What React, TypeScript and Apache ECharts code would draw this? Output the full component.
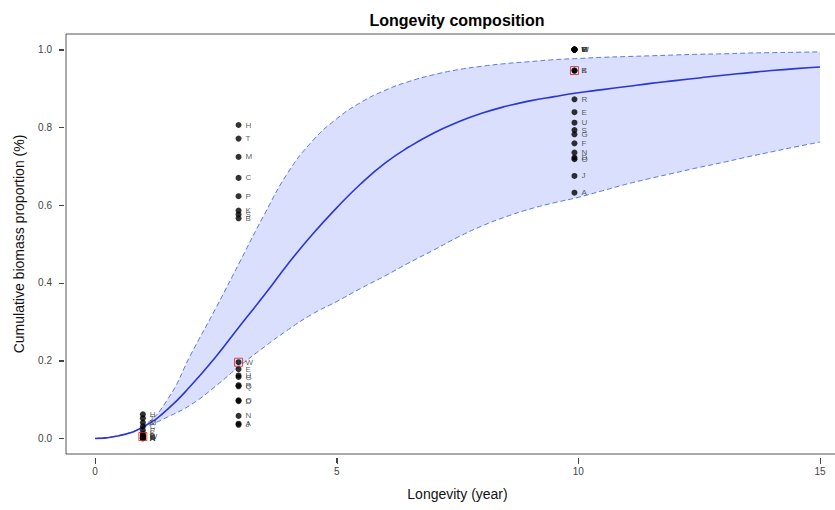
import React, { useEffect, useRef } from "react";
import * as echarts from "echarts";

// Fitted curve and its confidence band (every 0.5 year)
const curveX = [0, 0.5, 1, 1.5, 2, 2.5, 3, 3.5, 4, 4.5, 5, 5.5, 6, 6.5, 7, 7.5, 8, 8.5, 9, 9.5, 10, 10.5, 11, 11.5, 12, 12.5, 13, 13.5, 14, 14.5, 15];
const fitY = [0, 0.007, 0.03, 0.075, 0.138, 0.21, 0.29, 0.368, 0.45, 0.525, 0.593, 0.655, 0.708, 0.75, 0.785, 0.813, 0.836, 0.854, 0.868, 0.879, 0.889, 0.897, 0.905, 0.913, 0.92, 0.927, 0.934, 0.94, 0.946, 0.951, 0.955];
const upperY = [0, 0.008, 0.032, 0.1, 0.22, 0.335, 0.455, 0.575, 0.685, 0.765, 0.822, 0.864, 0.895, 0.918, 0.935, 0.948, 0.957, 0.964, 0.969, 0.974, 0.977, 0.98, 0.982, 0.984, 0.986, 0.988, 0.989, 0.991, 0.992, 0.993, 0.994];
const lowerY = [0, 0.007, 0.028, 0.055, 0.088, 0.135, 0.187, 0.235, 0.28, 0.32, 0.352, 0.386, 0.418, 0.452, 0.484, 0.517, 0.546, 0.57, 0.59, 0.606, 0.62, 0.637, 0.654, 0.669, 0.683, 0.697, 0.71, 0.724, 0.737, 0.75, 0.762];

// Observed points (three longevity classes)
const g1X = 0.99;
const g1Names = ["H", "T", "M", "C", "P", "K", "B", "W", "E", "S", "G", "R", "N", "A"];
const g1Values = [0.062, 0.052, 0.041, 0.031, 0.021, 0.012, 0.008, 0.005, 0.004, 0.003, 0.002, 0.001, 0.0005, 0];

const g3X = 2.97;
const g3Names = ["H", "T", "M", "C", "P", "K", "S", "B", "W", "E", "U", "G", "R", "Q", "O", "D", "N", "A", "J"];
const g3Values = [0.806, 0.771, 0.724, 0.67, 0.623, 0.586, 0.576, 0.566, 0.196, 0.178, 0.162, 0.158, 0.137, 0.134, 0.098, 0.096, 0.058, 0.038, 0.035];

const g10X = 9.92;
const g10Names = ["H", "T", "M", "C", "P", "W", "V", "K", "B", "R", "E", "U", "S", "G", "F", "N", "D", "O", "J", "A"];
const g10Values = [1, 1, 1, 1, 1, 1, 1, 0.946, 0.946, 0.872, 0.839, 0.812, 0.793, 0.782, 0.759, 0.735, 0.722, 0.718, 0.675, 0.632];

// Highlighted (red square) points
const refX = [0.99, 2.97, 9.92];
const refY = [0.005, 0.196, 0.946];

const xTicks = [0, 5, 10, 15];
const yTicks = [0, 0.2, 0.4, 0.6, 0.8, 1.0];

const X_MIN = -0.6;
const X_MAX = 15.6;
const Y_MIN = -0.04;
const Y_MAX = 1.04;

const FONT = "'Liberation Sans', Arial, sans-serif";

export default function App() {
  const ref = useRef<HTMLDivElement>(null);

  useEffect(() => {
    if (!ref.current) return;
    const chart = echarts.init(ref.current, undefined, { renderer: "svg" });

    const pts = (x: number, names: string[], vals: number[]) =>
      vals.map((v, i) => ({ value: [x, v], name: names[i] }));

    const scatterData = [
      ...pts(g1X, g1Names, g1Values),
      ...pts(g3X, g3Names, g3Values),
      ...pts(g10X, g10Names, g10Values),
    ];

    const dashStyle = { color: "#5a78de", width: 1, type: [5, 3] as number[] };

    const titleGraphic = {
      type: "text",
      id: "title",
      x: 457,
      y: 20,
      style: {
        text: "Longevity composition",
        font: `bold 16px ${FONT}`,
        fill: "#000000",
        align: "center",
        verticalAlign: "middle",
      },
    };

    chart.setOption({
      animation: false,
      backgroundColor: "#ffffff",
      textStyle: { fontFamily: FONT },
      grid: {
        left: 66,
        right: 21,
        top: 34,
        bottom: 56,
        show: true,
        borderColor: "#555555",
        borderWidth: 1,
        backgroundColor: "transparent",
      },
      graphic: [titleGraphic],
      xAxis: {
        type: "value",
        min: X_MIN,
        max: X_MAX,
        offset: 4,
        axisLine: { show: false, onZero: false },
        splitLine: { show: false },
        axisTick: { show: true, length: 5, customValues: xTicks, lineStyle: { color: "#444444", width: 1 } },
        axisLabel: { customValues: xTicks, fontSize: 10, color: "#444444", margin: 8, fontFamily: FONT },
        name: "Longevity (year)",
        nameLocation: "middle",
        nameGap: 29,
        nameTextStyle: { fontSize: 14, color: "#111111", fontFamily: FONT },
      },
      yAxis: {
        type: "value",
        min: Y_MIN,
        max: Y_MAX,
        offset: 2,
        axisLine: { show: false, onZero: false },
        splitLine: { show: false },
        axisTick: { show: true, length: 5, customValues: yTicks, lineStyle: { color: "#444444", width: 1 } },
        axisLabel: {
          customValues: yTicks,
          fontSize: 10,
          color: "#444444",
          margin: 12,
          fontFamily: FONT,
          formatter: (v: number) => v.toFixed(1),
        },
        name: "Cumulative biomass proportion (%)",
        nameLocation: "middle",
        nameGap: 38,
        nameTextStyle: { fontSize: 14, color: "#111111", fontFamily: FONT },
      },
      series: [
        {
          type: "line",
          name: "upper",
          z: 1,
          smooth: true,
          symbol: "none",
          data: curveX.map((x, i) => [x, upperY[i]]),
          lineStyle: dashStyle,
          areaStyle: { color: "#d9dffc", opacity: 1, origin: 0 },
        },
        {
          type: "line",
          name: "lower",
          z: 2,
          smooth: true,
          symbol: "none",
          data: curveX.map((x, i) => [x, lowerY[i]]),
          lineStyle: dashStyle,
          areaStyle: { color: "#ffffff", opacity: 1, origin: -0.012 },
        },
        {
          type: "line",
          name: "fit",
          z: 4,
          smooth: true,
          symbol: "none",
          data: curveX.map((x, i) => [x, fitY[i]]),
          lineStyle: { color: "#2a36d8", width: 1.6 },
        },
        {
          type: "scatter",
          name: "obs",
          z: 5,
          symbol: "circle",
          symbolSize: 6,
          itemStyle: { color: "#000000" },
          data: scatterData,
          label: {
            show: true,
            position: "right",
            distance: 4,
            formatter: (p: any) => p.name,
            fontSize: 8,
            color: "#333333",
            fontFamily: FONT,
          },
        },
        {
          type: "scatter",
          name: "ref",
          z: 6,
          symbol: "rect",
          symbolSize: 8,
          itemStyle: { color: "transparent", borderColor: "#e0201c", borderWidth: 1 },
          data: refX.map((x, i) => [x, refY[i]]),
        },
      ],
    });

    // Tick marks placed through the chart's own scales (filled rects)
    const tickGraphics: any[] = [];
    xTicks.forEach((v, i) => {
      const p = chart.convertToPixel({ gridIndex: 0 }, [v, Y_MIN]) as number[];
      if (p) {
        tickGraphics.push({
          type: "rect",
          id: "xt" + i,
          z: 100,
          shape: { x: Math.round(p[0]), y: p[1] + 4, width: 1, height: 6 },
          style: { fill: "#444444" },
        });
      }
    });
    yTicks.forEach((v, i) => {
      const p = chart.convertToPixel({ gridIndex: 0 }, [X_MIN, v]) as number[];
      if (p) {
        tickGraphics.push({
          type: "rect",
          id: "yt" + i,
          z: 100,
          shape: { x: p[0] - 7, y: Math.round(p[1]), width: 5, height: 1 },
          style: { fill: "#444444" },
        });
      }
    });
    chart.setOption({ graphic: [titleGraphic, ...tickGraphics] });

    return () => chart.dispose();
  }, []);

  return (
    <div
      style={{
        position: "absolute",
        left: 0,
        top: 0,
        width: 835,
        height: 510,
        overflow: "hidden",
        background: "#ffffff",
      }}
    >
      <div ref={ref} style={{ width: 870, height: 510 }} />
    </div>
  );
}
